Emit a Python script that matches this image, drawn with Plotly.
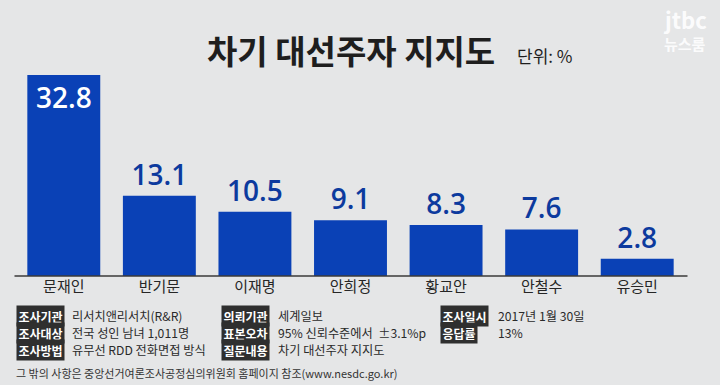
import plotly.graph_objects as go

candidates = ["문재인", "반기문", "이재명", "안희정", "황교안", "안철수", "유승민"]
support = [32.8, 13.1, 10.5, 9.1, 8.3, 7.6, 2.8]
value_labels = ["32.8", "13.1", "10.5", "9.1", "8.3", "7.6", "2.8"]

title_text = "차기 대선주자 지지도"
unit_text = "단위: %"

info_rows = [
    [("조사기관", "리서치앤리서치(R&R)"), ("의뢰기관", "세계일보"), ("조사일시", "2017년 1월 30일")],
    [("조사대상", "전국 성인 남녀 1,011명"), ("표본오차", "95% 신뢰수준에서  ±3.1%p"), ("응답률", "13%")],
    [("조사방법", "유무선 RDD 전화면접 방식"), ("질문내용", "차기 대선주자 지지도"), None],
]
footnote = "그 밖의 사항은 중앙선거여론조사공정심의위원회 홈페이지 참조(www.nesdc.go.kr)"

W, H = 720, 385
L, R_ = 15.5, 685.5
TOP, BOT = 60, 276
PPU = 6.13
YMAX = (BOT - TOP) / PPU

FONT = "Noto Sans CJK KR"
NUMFONT = "Open Sans"
BAR = "#0a41b6"
DARKBLUE = "#0c3a9e"


def px(x):
    return (x - L) / (R_ - L)


def py(y):
    return (BOT - y) / (BOT - TOP)


positions = ["inside"] + ["outside"] * (len(support) - 1)

fig = go.Figure(go.Bar(
    x=candidates, y=support,
    text=value_labels, textposition=positions,
    insidetextanchor="end",
    textangle=0, constraintext="none", cliponaxis=False,
    insidetextfont=dict(family=NUMFONT, size=28, color="white", weight=600),
    outsidetextfont=dict(family=NUMFONT, size=28, color=DARKBLUE, weight=600),
    marker=dict(color=BAR, line=dict(width=0)),
    hoverinfo="skip",
))

anns = []
anns.append(dict(text="<b>" + title_text + "</b>", x=px(351), y=py(50), xref="paper", yref="paper",
                 xanchor="center", yanchor="middle", showarrow=False,
                 font=dict(family=FONT, size=33, color="#1e1e1e")))
anns.append(dict(text=unit_text, x=px(515), y=py(56), xref="paper", yref="paper",
                 xanchor="left", yanchor="middle", showarrow=False,
                 font=dict(family=FONT, size=17, color="#1e1e1e")))
anns.append(dict(text="<b>jtbc</b>", x=px(685), y=py(19), xref="paper", yref="paper",
                 xanchor="center", yanchor="middle", showarrow=False,
                 font=dict(family=FONT, size=22, color="rgba(255,255,255,0.9)")))
anns.append(dict(text="<b>뉴스룸</b>", x=px(685), y=py(44), xref="paper", yref="paper",
                 xanchor="center", yanchor="middle", showarrow=False,
                 font=dict(family=FONT, size=15, color="rgba(255,255,255,0.9)")))

col_box_x = [15, 221, 440]
col_txt_x = [70, 276, 496]
row_y = [316, 333, 350]
for ri, row in enumerate(info_rows):
    for ci, cell in enumerate(row):
        if cell is None:
            continue
        lab, val = cell
        anns.append(dict(text="<b>" + lab + "</b>", x=px(col_box_x[ci]), y=py(row_y[ri]),
                         xref="paper", yref="paper", xanchor="left", yanchor="middle",
                         showarrow=False, bgcolor="#2f2f2f", borderpad=1.5,
                         font=dict(family=FONT, size=12, color="white")))
        anns.append(dict(text=val, x=px(col_txt_x[ci]), y=py(row_y[ri]),
                         xref="paper", yref="paper", xanchor="left", yanchor="middle",
                         showarrow=False,
                         font=dict(family=FONT, size=12.2, color="#2a2a2a")))

anns.append(dict(text=footnote, x=px(13), y=py(373), xref="paper", yref="paper",
                 xanchor="left", yanchor="middle", showarrow=False,
                 font=dict(family=FONT, size=11, color="#333333")))

fig.update_layout(
    width=W, height=H,
    margin=dict(l=L, r=W - R_, t=TOP, b=H - BOT, pad=0),
    paper_bgcolor="#e5e6e7", plot_bgcolor="rgba(0,0,0,0)",
    bargap=0.237, showlegend=False,
    annotations=anns,
    shapes=[dict(type="line", xref="paper", yref="paper", x0=px(14), x1=px(688), y0=0, y1=0,
                 line=dict(color="#3a3a3a", width=1.5))],
    font=dict(family=FONT),
)
fig.update_xaxes(showgrid=False, showline=False, zeroline=False, ticks="",
                 tickfont=dict(family=FONT, size=15, color="#262626"), fixedrange=True)
fig.update_yaxes(range=[0, YMAX], visible=False, showgrid=False, zeroline=False, fixedrange=True)

fig.write_html("out.html", config={"displayModeBar": False},
               post_script="document.body.style.margin='0';document.body.style.padding='0';")
